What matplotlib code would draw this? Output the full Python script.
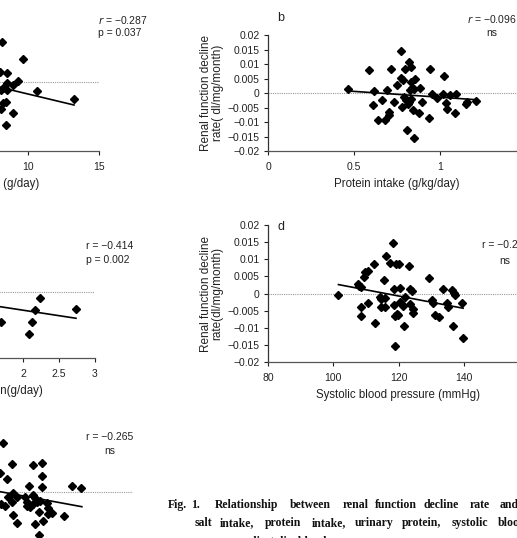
import numpy as np
import matplotlib.pyplot as plt
from matplotlib.ticker import FuncFormatter

W, H = 517, 538
plt.rcParams['font.family'] = ['Liberation Sans', 'DejaVu Sans']
plt.rcParams['font.size'] = 7.5

# (a) salt intake
a_x = [8.15, 9.63, 8.5, 8.03, 8.5, 9.32, 8.92, 8.26, 8.5, 8.1, 10.61, 13.24,
       8.45, 8.26, 8.1, 8.97, 8.45]
a_y = [0.0117, 0.0066, 0.0025, 0.003, -0.0002, 0.0003, -0.0009, -0.0018, -0.0023,
       -0.0023, -0.0026, -0.005, -0.0057, -0.0062, -0.0079, -0.0091, -0.0126]
a_fit = [-0.000985, 0.00637]
a_fit_x = [6.0, 13.24]

# (b) protein intake
b_x = [0.466, 0.586, 0.616, 0.61, 0.64, 0.678, 0.664, 0.689, 0.703, 0.703, 0.717,
       0.732, 0.748, 0.771, 0.775, 0.786, 0.794, 0.779, 0.79, 0.8, 0.81, 0.814,
       0.82, 0.825, 0.829, 0.833, 0.839, 0.843, 0.849, 0.854, 0.829, 0.82, 0.849,
       0.876, 0.884, 0.897, 0.936, 0.942, 0.955, 0.984, 1.016, 1.023, 1.033, 1.039,
       1.058, 1.088, 1.095, 1.15, 1.159, 1.208]
b_y = [0.0015, 0.008, 0.0007, -0.004, -0.0092, -0.0092, -0.0025, 0.0012, -0.0066,
       -0.0075, 0.0084, -0.0031, 0.0027, 0.0053, 0.0145, 0.0044, 0.0084, -0.0048,
       -0.0014, -0.0025, -0.0129, -0.0037, 0.0107, 0.0009, 0.0038, 0.009, 0.0018,
       -0.006, -0.0154, 0.005, -0.002, -0.0031, 0.0015, -0.0069, 0.0018, -0.0031,
       -0.0085, 0.0084, -0.0005, -0.0016, -0.0005, 0.0058, -0.0035, -0.0054,
       -0.0008, -0.0069, -0.0005, -0.0039, -0.0031, -0.0028]
b_fit = [-0.00404, 0.00258]
b_fit_x = [0.466, 1.208]

# (c) urinary protein
c_x = [2.236, 2.167, 2.736, 1.694, 2.13, 2.088]
c_y = [-0.0019, -0.0055, -0.0052, -0.009, -0.0092, -0.0127]
c_fit = [-0.00333, 0.00115]
c_fit_x = [1.2, 2.736]

# (d) systolic blood pressure
d_x = [101.6, 107.5, 108, 108.6, 108.6, 108.6, 109.4, 109.6, 110.6, 110.6, 112.4,
       112.7, 114.2, 114.7, 114.7, 115.5, 115.8, 115.8, 116.3, 117.3, 118.4, 118.6,
       118.6, 118.9, 118.9, 119.2, 119.4, 119.9, 120.2, 120.4, 120.6, 120.9, 121.4,
       121.6, 121.9, 123.3, 123.5, 124, 124.5, 124.5, 123.5, 129.4, 130.2, 130.5,
       131.2, 132.3, 133.6, 134.8, 135.3, 136.4, 136.9, 137.4, 136.7, 139.5, 139.8]
d_y = [-0.0003, 0.0029, 0.0022, 0.0019, -0.004, -0.0067, 0.0048, 0.0063, 0.0066,
       -0.0029, 0.0085, -0.0085, -0.001, -0.0017, -0.0039, 0.004, -0.0039, -0.0014,
       0.0109, 0.0089, 0.0146, 0.0012, -0.0034, -0.0067, -0.0154, 0.0085, -0.006,
       -0.0063, 0.0085, 0.0017, -0.0024, -0.0029, -0.0037, -0.0096, -0.001, 0.0079,
       0.0014, 0.0008, -0.0046, -0.0056, -0.0031, 0.0046, -0.0019, -0.0029, -0.0063,
       -0.0069, 0.0013, -0.0029, -0.0039, 0.001, 0.0002, -0.0005, -0.0094, -0.0027,
       -0.013]
d_fit = [-0.0001806, 0.02095]
d_fit_x = [101.6, 139.8]

# (e) diastolic blood pressure
e_x = [60.5, 63.2, 69.8, 72.3, 59.7, 61.9, 72.3, 68.6, 72.5, 81.4, 84.2, 63.5, 64.7,
       62.2, 61.2, 60, 63.2, 67.3, 67.8, 68, 68.8, 69.8, 70.3, 70.8, 69.6, 71.8,
       73.8, 74.1, 75.4, 74.3, 71.6, 79.2, 63.7, 64.9, 70.3, 72.8, 71.6]
e_y = [0.0141, 0.0081, 0.0077, 0.0083, 0.0056, 0.0039, 0.0047, 0.0017, 0.0015,
       0.0017, 0.0011, -0.0004, -0.0014, -0.0015, -0.0041, -0.0035, -0.0028,
       -0.0015, -0.0028, -0.004, -0.0043, -0.0009, -0.0018, -0.0028, -0.0035,
       -0.0025, -0.0033, -0.0047, -0.006, -0.0064, -0.0057, -0.0069, -0.0068,
       -0.0091, -0.0093, -0.0083, -0.0125]
e_fit = [-0.000176, 0.01061]
e_fit_x = [55.0, 84.5]

ylab = 'Renal function decline\nrate( dl/mg/month)'
ylab_d = 'Renal function decline\nrate(dl/mg/month)'
yticks = np.arange(-0.02, 0.0201, 0.005)

fig = plt.figure(figsize=(W / 100, H / 100), dpi=100)


def add_panel(left, right, top, bottom):
    return fig.add_axes([left / W, 1 - bottom / H, (right - left) / W, (bottom - top) / H])


def fmt(v, pos):
    if abs(v) < 1e-9:
        return '0'
    return f"{v:g}".replace('-', '\u2212')


def draw(ax, xs, ys, fit, fit_x, xlim, xticks, xlabel):
    ax.set_xlim(xlim)
    ax.set_ylim(-0.02, 0.02)
    ax.set_xticks(xticks)
    ax.set_yticks(yticks)
    ax.xaxis.set_major_formatter(FuncFormatter(fmt))
    ax.yaxis.set_major_formatter(FuncFormatter(fmt))
    for s in ['top', 'right']:
        ax.spines[s].set_visible(False)
    ax.spines['bottom'].set_color('#555')
    ax.spines['left'].set_color('#333')
    ax.spines['bottom'].set_linewidth(0.9)
    ax.spines['left'].set_linewidth(0.9)
    ax.tick_params(axis='x', length=3, width=0.8, pad=5, colors='#222')
    ax.tick_params(axis='y', length=3, width=0.8, pad=3, colors='#222')
    ax.axhline(0, color='#999', lw=0.8, ls=(0, (1, 1)), zorder=1)
    ax.plot(xs, ys, 'D', color='black', markersize=3.8, zorder=3)
    fx = np.array(fit_x)
    ax.plot(fx, fit[0] * fx + fit[1], color='black', lw=1.2, zorder=2)
    ax.set_xlabel(xlabel, labelpad=4, color='#222', fontsize=8.3)
    ax.patch.set_alpha(0)


ax_a = add_panel(-114, 99, 13, 151)
draw(ax_a, a_x, a_y, a_fit, a_fit_x, (0, 15), [0, 5, 10, 15], 'Salt intake (g/day)')

ax_b = add_panel(268, 526, 35, 151)
draw(ax_b, b_x, b_y, b_fit, b_fit_x, (0, 1.5), [0, 0.5, 1, 1.5], 'Protein intake (g/kg/day)')
ax_b.set_ylabel(ylab, labelpad=3, color='#222', linespacing=1.0, fontsize=8.5)

ax_c = add_panel(-121, 95, 226, 358)
draw(ax_c, c_x, c_y, c_fit, c_fit_x, (0, 3), [0, 0.5, 1, 1.5, 2, 2.5, 3], 'Urinary protein(g/day)')

ax_d = add_panel(268, 529, 225, 362)
draw(ax_d, d_x, d_y, d_fit, d_fit_x, (80, 160), [80, 100, 120, 140, 160],
     'Systolic blood pressure (mmHg)')
ax_d.set_ylabel(ylab_d, labelpad=3, color='#222', linespacing=1.0, fontsize=8.5)

ax_e = add_panel(-32, 133, 423, 561)
draw(ax_e, e_x, e_y, e_fit, e_fit_x, (50, 100), [50, 60, 70, 80, 90, 100],
     'Diastolic blood pressure (mmHg)')


def ftext(x, y, s, **kw):
    fig.text(x / W, 1 - y / H, s, va='center', color='#222', **kw)


ftext(98, 20, '$r$ = \u22120.287')
ftext(98, 33, 'p = 0.037')
ftext(277, 18, 'b', fontsize=9)
ftext(492, 19, '$r$ = \u22120.096', ha='center')
ftext(492, 33, 'ns', ha='center')
ftext(86, 246, 'r = \u22120.414')
ftext(86, 260, 'p = 0.002')
ftext(278, 227, 'd', fontsize=9)
ftext(482, 245, 'r = \u22120.248')
ftext(505, 261, 'ns', ha='center')
ftext(86, 437, 'r = \u22120.265')
ftext(110, 451, 'ns', ha='center')

cap1 = ['Fig.', '1.', 'Relationship', 'between', 'renal', 'function', 'decline', 'rate', 'and']
cap1_x = [168, 191, 215, 290, 343, 375, 423, 470, 500]
cap2 = ['salt', 'intake,', 'protein', 'intake,', 'urinary', 'protein,', 'systolic', 'blood']
cap2_x = [195, 220, 265, 312, 355, 402, 452, 498]
cap_style = dict(family='Liberation Serif', fontweight='bold', fontsize=8.5, color='#111')
for w, x in zip(cap1, cap1_x):
    fig.text(x / W, 1 - 505 / H, w, va='center', **cap_style)
for w, x in zip(cap2, cap2_x):
    fig.text(x / W, 1 - 523 / H, w, va='center', **cap_style)
fig.text(250 / W, 1 - 542 / H, 'diastolic  blood  pressure.', va='center', **cap_style)

fig.savefig('out.png', dpi=100)
